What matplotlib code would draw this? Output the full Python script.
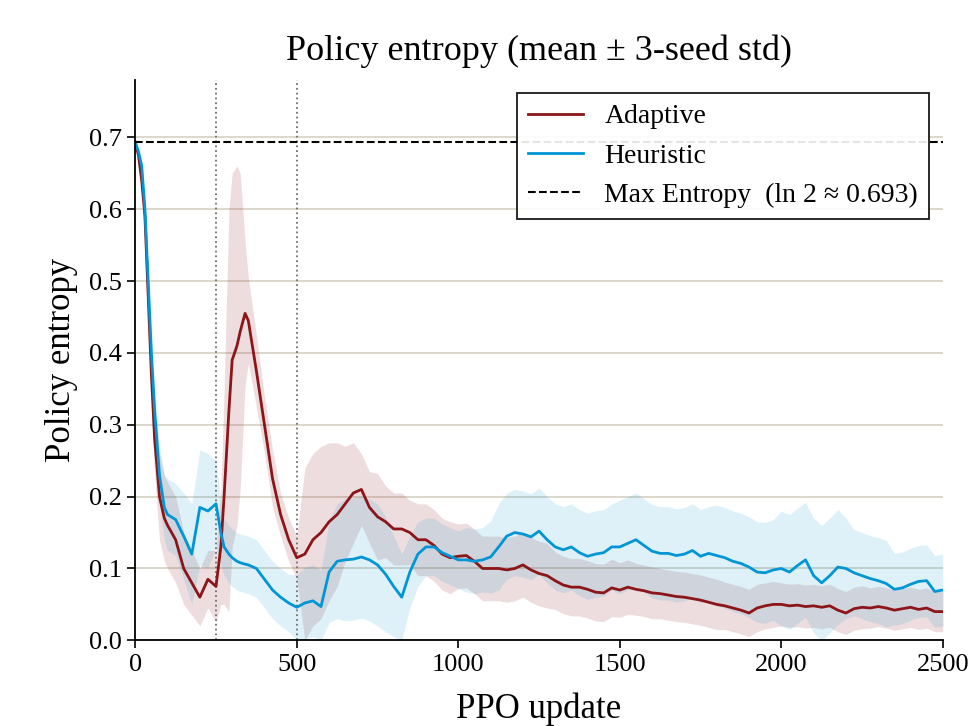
import matplotlib
matplotlib.use("Agg")
import matplotlib.pyplot as plt
import numpy as np

# PPO update index at which values were read
updates = [0, 10, 20, 30, 40, 50, 60, 75, 90, 100,
           125, 150, 175, 200, 225, 250, 265, 275, 290, 300, 315, 325, 340, 350,
           375, 400, 425, 450, 475, 500, 525, 550, 575, 600,
           625, 650, 675, 700, 725, 750, 775, 800, 825, 850,
           875, 900, 925, 950, 975, 1000, 1025, 1050, 1075, 1100,
           1125, 1150, 1175, 1200, 1225, 1250, 1275, 1300, 1325, 1350,
           1375, 1400, 1425, 1450, 1475, 1500, 1525, 1550, 1575, 1600,
           1625, 1650, 1675, 1700, 1725, 1750, 1775, 1800, 1825, 1850,
           1875, 1900, 1925, 1950, 1975, 2000, 2025, 2050, 2075, 2100,
           2125, 2150, 2175, 2200, 2225, 2250, 2275, 2300, 2325, 2350,
           2375, 2400, 2425, 2450, 2475, 2500]

adaptive_mean = [0.693, 0.675, 0.64, 0.59, 0.48, 0.37, 0.28, 0.20, 0.17, 0.16,
                 0.14, 0.10, 0.08, 0.06, 0.085, 0.075, 0.13, 0.20, 0.32, 0.39, 0.41, 0.43, 0.455, 0.445,
                 0.375, 0.30, 0.225, 0.175, 0.14, 0.115, 0.12, 0.14, 0.15, 0.165,
                 0.175, 0.19, 0.205, 0.21, 0.185, 0.172, 0.165, 0.155, 0.155, 0.15,
                 0.14, 0.14, 0.132, 0.12, 0.115, 0.117, 0.118, 0.11, 0.10, 0.10,
                 0.10, 0.098, 0.10, 0.105, 0.098, 0.093, 0.09, 0.083, 0.077, 0.074,
                 0.074, 0.071, 0.067, 0.066, 0.073, 0.07, 0.074, 0.071, 0.069, 0.066,
                 0.065, 0.063, 0.061, 0.06, 0.058, 0.056, 0.053, 0.05, 0.048, 0.045,
                 0.042, 0.038, 0.045, 0.048, 0.05, 0.05, 0.048, 0.049, 0.047, 0.048,
                 0.046, 0.048, 0.042, 0.038, 0.044, 0.046, 0.045, 0.047, 0.045, 0.042,
                 0.044, 0.046, 0.043, 0.045, 0.04, 0.04]

adaptive_std = [0.0, 0.005, 0.01, 0.02, 0.03, 0.04, 0.05, 0.06, 0.06, 0.06,
                0.06, 0.05, 0.045, 0.04, 0.04, 0.05, 0.08, 0.15, 0.28, 0.26, 0.25, 0.22, 0.10, 0.06,
                0.05, 0.04, 0.04, 0.03, 0.03, 0.03, 0.12, 0.12, 0.12, 0.11,
                0.10, 0.08, 0.07, 0.05, 0.05, 0.06, 0.05, 0.05, 0.05, 0.045,
                0.05, 0.05, 0.05, 0.05, 0.05, 0.045, 0.045, 0.045, 0.045, 0.045,
                0.045, 0.045, 0.045, 0.045, 0.045, 0.045, 0.045, 0.04, 0.04, 0.04,
                0.04, 0.04, 0.04, 0.04, 0.04, 0.038, 0.038, 0.036, 0.036, 0.036,
                0.035, 0.035, 0.035, 0.035, 0.035, 0.035, 0.035, 0.035, 0.033, 0.033,
                0.033, 0.033, 0.033, 0.032, 0.032, 0.03, 0.03, 0.03, 0.03, 0.03,
                0.03, 0.03, 0.03, 0.03, 0.03, 0.03, 0.028, 0.028, 0.028, 0.028,
                0.028, 0.028, 0.028, 0.028, 0.028, 0.028]

heuristic_mean = [0.693, 0.68, 0.66, 0.60, 0.50, 0.40, 0.32, 0.23, 0.185, 0.175,
                  0.168, 0.145, 0.12, 0.185, 0.18, 0.19, 0.15, 0.13, 0.12, 0.115, 0.11, 0.108, 0.106, 0.105,
                  0.10, 0.085, 0.07, 0.06, 0.052, 0.046, 0.052, 0.055, 0.047, 0.095,
                  0.11, 0.112, 0.113, 0.116, 0.112, 0.105, 0.092, 0.075, 0.06, 0.095,
                  0.12, 0.13, 0.13, 0.122, 0.117, 0.112, 0.112, 0.11, 0.112, 0.116,
                  0.13, 0.145, 0.15, 0.148, 0.144, 0.152, 0.14, 0.13, 0.126, 0.13,
                  0.122, 0.117, 0.12, 0.122, 0.13, 0.13, 0.135, 0.14, 0.132, 0.124,
                  0.121, 0.121, 0.118, 0.12, 0.125, 0.117, 0.121, 0.118, 0.115, 0.11,
                  0.107, 0.102, 0.095, 0.094, 0.098, 0.10, 0.095, 0.104, 0.112, 0.09,
                  0.08, 0.09, 0.102, 0.10, 0.094, 0.09, 0.086, 0.083, 0.079, 0.071,
                  0.073, 0.078, 0.082, 0.083, 0.068, 0.07]

heuristic_std = [0.0, 0.005, 0.01, 0.015, 0.02, 0.025, 0.03, 0.04, 0.045, 0.05,
                 0.05, 0.06, 0.07, 0.08, 0.08, 0.06, 0.045, 0.04, 0.04, 0.04, 0.04, 0.04, 0.04, 0.04,
                 0.04, 0.04, 0.04, 0.04, 0.04, 0.045, 0.05, 0.05, 0.05, 0.07,
                 0.08, 0.085, 0.085, 0.085, 0.085, 0.085, 0.08, 0.07, 0.06, 0.05,
                 0.045, 0.04, 0.04, 0.04, 0.04, 0.04, 0.045, 0.045, 0.045, 0.05,
                 0.06, 0.06, 0.06, 0.06, 0.06, 0.06, 0.06, 0.06, 0.06, 0.06,
                 0.06, 0.06, 0.06, 0.06, 0.06, 0.065, 0.065, 0.065, 0.065, 0.065,
                 0.065, 0.065, 0.065, 0.065, 0.065, 0.065, 0.065, 0.07, 0.07, 0.07,
                 0.07, 0.07, 0.07, 0.07, 0.07, 0.08, 0.08, 0.08, 0.08, 0.08,
                 0.08, 0.08, 0.08, 0.07, 0.06, 0.06, 0.06, 0.06, 0.06, 0.05,
                 0.05, 0.05, 0.05, 0.05, 0.05, 0.05]

max_entropy = np.log(2)
phase_marks = [250, 500]

RED = "#8b1518"
BLUE = "#0096d6"

plt.rcParams['font.family'] = ['Liberation Serif', 'DejaVu Serif']

fig = plt.figure(figsize=(9.73, 7.26), dpi=100)
ax = fig.add_axes([0.139, 0.118, 0.83, 0.772])

x = np.array(updates)
am, asd = np.array(adaptive_mean), np.array(adaptive_std)
hm, hsd = np.array(heuristic_mean), np.array(heuristic_std)

ax.fill_between(x, np.clip(am - asd, 0, None), am + asd, color=RED, alpha=0.14, lw=0)
ax.fill_between(x, np.clip(hm - hsd, 0, None), hm + hsd, color=BLUE, alpha=0.13, lw=0)
ax.plot(x, am, color=RED, lw=2.0, label="Adaptive")
ax.plot(x, hm, color=BLUE, lw=2.0, label="Heuristic")
ax.axhline(max_entropy, color="black", ls="--", lw=1.5,
           label="Max Entropy  (ln 2 ≈ 0.693)")
for xm in phase_marks:
    ax.axvline(xm, color="#707070", ls=":", lw=1.3, zorder=1)

ax.set_xlim(0, 2500)
ax.set_ylim(0, 0.78)
ax.set_xticks([0, 500, 1000, 1500, 2000, 2500])
ax.set_yticks(np.arange(0, 0.71, 0.1))
ax.set_yticklabels([f"{v:.1f}" for v in np.arange(0, 0.71, 0.1)])
ax.tick_params(labelsize=19, length=6, width=1.2)
ax.yaxis.grid(True, color="#d9d4c7", lw=1.3)
ax.set_axisbelow(True)
for s in ["top", "right"]:
    ax.spines[s].set_visible(False)
for s in ["left", "bottom"]:
    ax.spines[s].set_linewidth(1.3)

ax.set_xlabel("PPO update", fontsize=25, labelpad=12)
ax.set_ylabel("Policy entropy", fontsize=25, labelpad=8)
ax.set_title("Policy entropy (mean ± 3-seed std)", fontsize=26, pad=14)

leg = ax.legend(loc="upper right", fontsize=20, fancybox=False, framealpha=0.9,
                edgecolor="black", handlelength=2.0, handletextpad=0.75,
                borderpad=0.4, borderaxespad=0, bbox_to_anchor=(0.983, 0.977))
leg.get_frame().set_linewidth(1.3)

fig.savefig("out.png", dpi=100)
